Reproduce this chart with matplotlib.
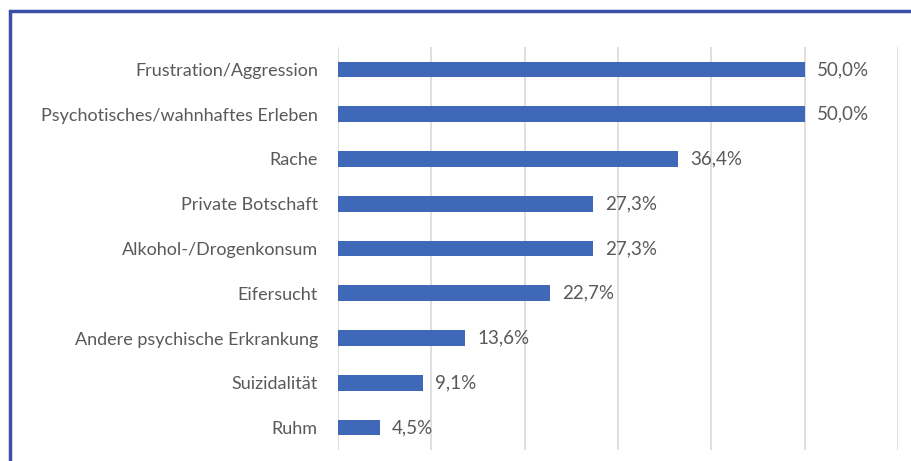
import matplotlib.pyplot as plt
from matplotlib.patches import Rectangle

categories = [
    "Frustration/Aggression",
    "Psychotisches/wahnhaftes Erleben",
    "Rache",
    "Private Botschaft",
    "Alkohol-/Drogenkonsum",
    "Eifersucht",
    "Andere psychische Erkrankung",
    "Suizidalität",
    "Ruhm",
]
values = [50.0, 50.0, 36.4, 27.3, 27.3, 22.7, 13.6, 9.1, 4.5]
grid_ticks = [0, 10, 20, 30, 40, 50, 60]

plt.rcParams['font.family'] = ['Lato', 'DejaVu Sans']

fig = plt.figure(figsize=(9.11, 4.61), dpi=100)
ax = fig.add_axes([338 / 911, 1 - 450 / 461, 560 / 911, 403 / 461])

y = list(range(len(categories)))
ax.barh(y, values, height=0.35, color='#4068B8')
ax.set_ylim(len(categories) - 0.5, -0.5)
ax.set_xlim(0, 60)

for yi, v in zip(y, values):
    ax.text(v + 1.3, yi, f"{v:.1f}".replace('.', ',') + '%', va='center', ha='left',
            fontsize=13.5, color='#595959')

ax.set_yticks(y)
ax.set_yticklabels(categories, fontsize=13, color='#595959')
ax.tick_params(axis='y', length=0, pad=14.5)
ax.set_xticks(grid_ticks)
ax.tick_params(axis='x', length=0, labelbottom=False)
ax.grid(axis='x', color='#d9d9d9', linewidth=1.2)
ax.set_axisbelow(True)
for s in ax.spines.values():
    s.set_visible(False)

# blue frame round the figure (right and bottom edges cut off)
fig.patches.append(Rectangle((9.5 / 911, -0.1), 1.2, 1.1 - 11 / 461, transform=fig.transFigure,
                             fill=False, edgecolor='#3A50A8', linewidth=2.5))

fig.savefig('out.png', dpi=100)
